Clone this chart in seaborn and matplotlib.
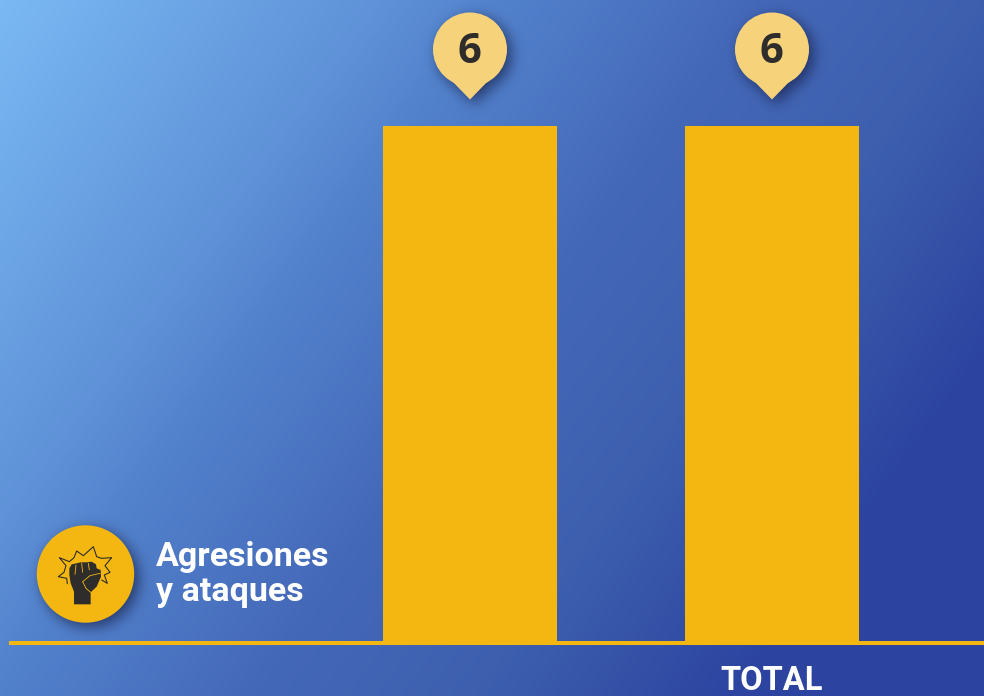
import matplotlib.pyplot as plt
import matplotlib.colors as mcolors
from matplotlib.patches import Circle, Polygon
from matplotlib.path import Path
import numpy as np
import seaborn as sns

categories = ['Agresiones y ataques', 'TOTAL']
values = [6, 6]
tick_labels = ['', 'TOTAL']
legend_lines = ['Agresiones', 'y ataques']

W, H = 984, 696
BAR = '#f4b711'
PIN = '#f6d27a'
DARK = '#2e2d2c'


def add_shadow(img, masks, dx=4, dy=4, sigma=7, strength=0.68):
    """blur the shape masks and darken the background image with them"""
    mask = np.zeros(img.shape[:2])
    for m in masks:
        mask = np.maximum(mask, m)
    mask = np.roll(np.roll(mask, dy, axis=0), dx, axis=1)
    t = np.arange(-3 * sigma, 3 * sigma + 1)
    kernel = np.exp(-t ** 2 / (2 * sigma ** 2))
    kernel /= kernel.sum()
    mask = np.apply_along_axis(lambda r: np.convolve(r, kernel, mode='same'), 0, mask)
    mask = np.apply_along_axis(lambda r: np.convolve(r, kernel, mode='same'), 1, mask)
    a = (mask * strength)[..., None]
    return img * (1 - a) + np.array([0.07, 0.1, 0.25]) * a


def gradient_background():
    yy, xx = np.mgrid[0:H, 0:W]
    t = np.clip((520 * xx + 380 * yy) / 650000, 0, 1)
    cmap = mcolors.LinearSegmentedColormap.from_list(
        'bg', [(0, '#7ab9f3'), (0.304, '#5f92d8'), (0.39, '#5383cd'), (0.608, '#4468b8'),
               (0.787, '#3d5fae'), (1, '#2c44a0')])
    return cmap(t)[..., :3], xx, yy


sns.set_theme(style='white')
plt.rcParams['font.family'] = ['Roboto', 'DejaVu Sans']

fig = plt.figure(figsize=(W / 100, H / 100), dpi=100)
bg_ax = fig.add_axes([0, 0, 1, 1], zorder=0)
ax = fig.add_axes([9 / W, (H - 642.5) / H, 975 / W, 516.5 / H], zorder=1)
top_ax = fig.add_axes([0, 0, 1, 1], zorder=2)

# bars
ax.patch.set_alpha(0)
sns.barplot(x=categories, y=values, color=BAR, saturation=1, width=0.576, linewidth=0, ax=ax)
ax.set_xlim((9 - 470) / 302, (984 - 470) / 302)
ax.set_ylim(0, 6)
ax.set_yticks([])
ax.set_xticks(range(len(categories)))
ax.set_xticklabels(tick_labels, fontsize=23.5, fontweight='bold', color='white')
ax.tick_params(axis='x', length=0, pad=16)
sns.despine(ax=ax, left=True)
ax.spines['bottom'].set_color(BAR)
ax.spines['bottom'].set_linewidth(2.9)
ax.spines['bottom'].set_capstyle('butt')

# overlay in pixel coords
top_ax.set_xlim(0, W)
top_ax.set_ylim(H, 0)
top_ax.axis('off')

img, xx, yy = gradient_background()
masks = []
pts = np.column_stack([xx.ravel(), yy.ravel()])

# value pins, placed from the bar tops
fig.canvas.draw()
for i, v in enumerate(values):
    px, py = ax.transData.transform((i, v))
    cx, cy = px, H - py - 76.5
    tri = [(cx - 20, cy + 29.5), (cx, cy + 50), (cx + 20, cy + 29.5)]
    top_ax.add_patch(Circle((cx, cy), 37, color=PIN, lw=0))
    top_ax.add_patch(Polygon(tri, color=PIN, lw=0))
    masks.append(((xx - cx) ** 2 + (yy - cy) ** 2 <= 37 ** 2).astype(float))
    masks.append(Path(tri + [tri[0]]).contains_points(pts).reshape(xx.shape).astype(float))
    top_ax.text(cx - 1, cy + 3, str(v), ha='center', va='center', fontsize=30,
                fontweight='bold', family='Open Sans', color=DARK)

# icon badge
bx, by, br = 85.5, 574, 48.7
top_ax.add_patch(Circle((bx, by), br, color=BAR, lw=0))
masks.append(((xx - bx) ** 2 + (yy - by) ** 2 <= br ** 2).astype(float))


def z(points):
    # from the traced icon coords (3x crop) to pixels
    return [(50 + a / 3, 535 + b / 3) for a, b in points]


burst = [(52, 146), (50, 130), (25, 125), (42, 112), (48, 92), (28, 68), (58, 80), (72, 68),
         (80, 48), (100, 62), (130, 35), (140, 65), (155, 70), (185, 68), (165, 92),
         (180, 112), (163, 120), (172, 145), (155, 135)]
top_ax.plot(*zip(*z(burst)), color=DARK, lw=0.8)
fist = [(58, 100), (65, 88), (80, 85), (92, 82), (110, 82), (125, 80), (138, 88), (140, 100),
        (152, 105), (153, 125), (140, 155), (122, 172), (122, 208), (72, 208), (72, 170),
        (62, 145), (58, 120)]
top_ax.add_patch(Polygon(z(fist), color=DARK, lw=0))
for seg in ([(78, 90), (75, 118)], [(95, 85), (98, 112)], [(115, 85), (118, 105)],
            [(98, 140), (120, 122), (150, 115)], [(98, 140), (108, 160), (122, 172)]):
    top_ax.plot(*zip(*z(seg)), color=BAR, lw=0.6)

top_ax.text(156, 566, legend_lines[0], fontsize=24.5, fontweight='bold', color='white', va='baseline')
top_ax.text(156, 600.5, legend_lines[1], fontsize=24.5, fontweight='bold', color='white', va='baseline')

# background goes last since it needs the shape masks
bg_ax.imshow(add_shadow(img, masks), aspect='auto', extent=(0, W, H, 0), interpolation='bilinear')
bg_ax.axis('off')

fig.savefig('out.png', dpi=100)
